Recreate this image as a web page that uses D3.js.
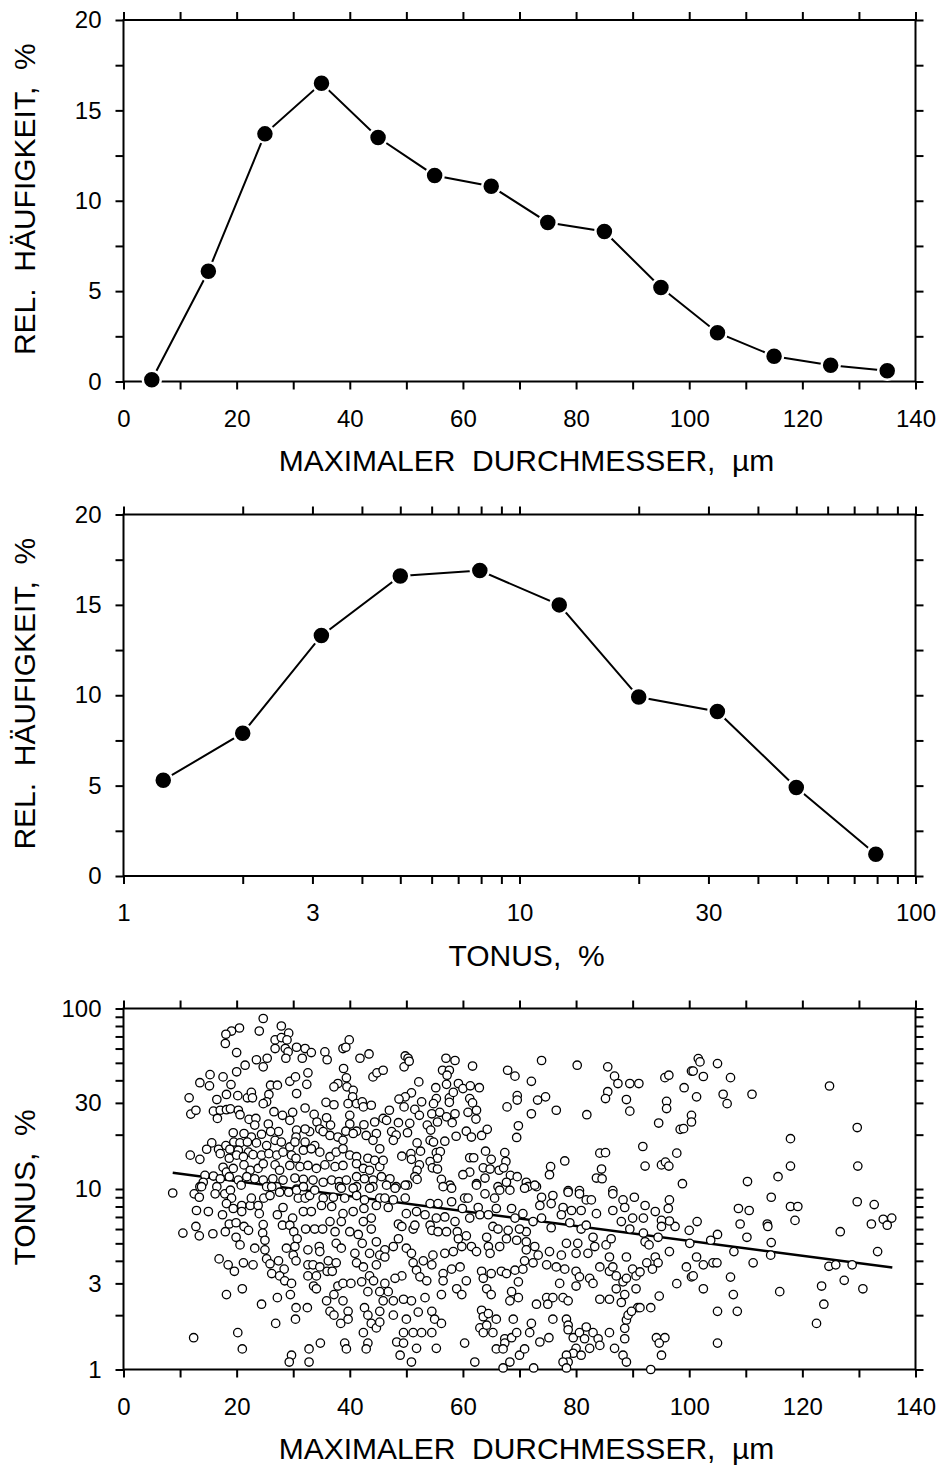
<!DOCTYPE html>
<meta charset="utf-8">
<script src="https://d3js.org/d3.v7.min.js"></script>
<style>
  body { margin: 0; background: #fff; }
  text { font-family: "Liberation Sans", Arial, Helvetica, sans-serif; fill: #000; }
</style>
<body>
<div id="chart"></div>
<script>

// ---- data ----
// panel 1: size distribution
var diamBins = [5, 15, 25, 35, 45, 55, 65, 75, 85, 95, 105, 115, 125, 135];
var diamFreq = [0.1, 6.1, 13.7, 16.5, 13.5, 11.4, 10.8, 8.8, 8.3, 5.2, 2.7, 1.4, 0.9, 0.6];

// panel 2: tonus distribution (log bins)
var tonusBins = [1.26, 2, 3.16, 5, 7.94, 12.6, 20, 31.6, 50, 79.4];
var tonusFreq = [5.3, 7.9, 13.3, 16.6, 16.9, 15.0, 9.9, 9.1, 4.9, 1.2];

// panel 3: [diameter, tonus] per particle
var scatter = [
  [24.7,88],[24.0,75],[27.9,80],[29.2,73],[26.8,67],[27.9,69],[28.9,67],[26.8,60],[28.6,60],[29.1,57.5],[28.7,53],[30.6,61],[32.1,60],[33.2,57],[31.6,53],[35.6,57.5],[36.0,52],[38.8,60],[39.9,67],[39.3,61],[41.8,53],[43.4,56],[20.5,78],[19.1,75],[18.1,72],[18.0,64],[20.0,57],[23.5,52],[24.7,47.5],[25.4,53],[21.5,48.5],[20.0,44.6],[15.3,43],[15.2,37.3],[13.5,38.8],[17.6,41.8],[19.0,37.9],[11.6,32],[16.5,31.3],[18.2,33.4],[20.2,32.9],[21.9,32],[22.6,34.3],[22.8,32],[26.0,37.6],[27.2,37.6],[25.7,33.4],[25.3,30.4],[24.7,29.7],[29.4,39.5],[30.4,41.8],[30.6,33.8],[32.6,44],[32.4,38],[32.1,28.1],[35.8,30.2],[37.2,29.3],[38.9,46.5],[39.4,41.3],[37.9,38.4],[37.2,36.8],[39.5,36.8],[40.6,35.2],[40.5,32.4],[39.7,29.7],[41.2,29.7],[42.2,30.4],[42.4,28.5],[43.8,29.1],[44.1,41.8],[44.8,44],[45.9,45.5],
  [11.9,26],[12.8,27.3],[15.9,27],[17.1,27.3],[16.6,24.6],[18.2,27.5],[18.9,27.8],[20.3,27.3],[20.6,25.8],[22.2,24.3],[23.4,24.6],[23.2,22.6],[25.6,22.9],[26.6,26.8],[28.1,25.6],[29.4,24],[29.9,26.6],[33.7,25.9],[34.2,23.5],[35.9,24.8],[36.6,22.6],[34.7,21.5],[35.3,20.8],[32.9,20.8],[32.1,21.5],[30.6,21.2],[30.5,19.4],[32.1,18.2],[33.8,17.4],[40,25.6],[40,22.9],[39.3,20.9],[41.2,20.9],[42.5,22.7],[42.9,19.8],[44.4,23.5],[44.7,20.3],[44.1,18.6],[45.9,24.6],[27.4,20.8],[26,20.8],[24.4,20.1],[22.6,19.4],[21.3,20.3],[19.4,20.5],[19.5,18.2],[20.6,18],[21.9,18.2],[23.5,18],[25.3,17.4],[26.8,18.6],[27.9,18.2],[29.4,17.1],[30.3,18.2],[36.5,19.8],[37.9,19.4],[38.8,18.6],[40.6,20.3],[15.6,18],[14.7,16.6],[16.8,16.6],[18.1,17.4],[18.8,16.6],[20.3,16.4],[22.1,16],
  [11.8,15.4],[13.5,14.6],[17.1,15.7],[18.7,14.8],[20,15.4],[21.2,15.1],[22.9,15.5],[24.4,15.4],[25.7,15.7],[27.1,15.4],[28.2,16],[29.7,15.4],[30.5,14.8],[31.8,16.4],[33.2,16.7],[34.7,16],[36.5,15.1],[37.6,16],[38.8,16.7],[40,15.4],[41.2,15.1],[43.2,14.8],[45.3,16.7],[44.4,14.4],[17.6,13.2],[18.2,12.4],[19.4,13],[21.3,13.6],[22.4,12.7],[23.8,13],[24.7,13.8],[26.8,13.6],[27.6,12.7],[29.4,13.5],[31.2,13.3],[32.6,13.5],[34.1,13],[35.6,13.6],[37.4,13.3],[38.8,13.5],[41.2,13.8],[42.4,13],[43.5,12.7],[45.3,13.3],[14.4,11.9],[15.9,11.8],[17.1,11.4],[18.7,11.7],[20.3,11.2],[21.8,11.7],[23.2,11.4],[24.7,11.2],[26.4,11.4],[28.2,11.2],[30.3,11.5],[31.8,11.3],[33.5,11.2],[35.3,10.9],[36.8,11.2],[38.1,11],[39.4,11.2],[41.2,11.7],[42.6,11.4],[44.1,11.2],[45.6,11.7],[14.1,10.9],[13.5,10.3],[16.5,10.3],[20.8,10.5],[25.3,10.3],[27.1,10.3],[30.6,10],[38.2,10.3],[41.2,10.3],[44.1,10.3],[8.7,9.5],
  [12.5,9.4],[13.4,9.0],[13.8,10.3],[16.2,9.4],[17.9,9.4],[18.9,9.85],[19.1,8.9],[18.2,8.3],[19.4,7.8],[20.9,8.1],[22.4,8.1],[22.6,8.9],[23.8,8.1],[24.8,8.9],[25.9,9.2],[26.2,10.3],[27.6,9.6],[29.2,9.6],[28.2,7.9],[30.9,8.9],[30.6,9.85],[31.8,10.3],[32.1,8.9],[32.9,9.2],[33.8,9.85],[35.3,8.9],[37.1,9.0],[38.5,10.1],[39.1,8.9],[40.6,10.1],[41.2,9.2],[42.6,8.7],[43.5,10.1],[45.3,8.9],[12.9,7.6],[15.0,7.5],[17.5,7.2],[20.9,7.5],[24.0,7.3],[27.2,7.2],[29.9,6.9],[31.8,7.5],[33.2,7.5],[35.0,8.1],[36.8,8.0],[38.8,7.3],[40.6,7.5],[42.5,7.8],[43.8,6.9],[44.7,8.1],[12.8,6.2],[13.4,5.5],[10.5,5.7],[15.8,5.65],[18.0,5.8],[18.7,6.4],[19.9,6.5],[21.3,6.2],[22.1,5.9],[19.9,5.4],[20.6,4.9],[24.7,6.35],[24.6,5.7],[25.0,5.2],[23.2,4.7],[25.0,4.6],[28.1,6.3],[29.4,6.3],[30.1,5.8],[30.7,5.3],[32.2,6.0],[33.8,6.0],[35.2,6.0],[36.5,6.6],[37.4,5.8],[38.5,6.6],[40.0,5.8],[41.5,5.6],[42.4,6.6],[43.8,6.0],[28.8,4.7],[30.3,4.8],[32.6,4.6],[34.6,4.8],[34.7,4.5],[37.6,5.0],[38.5,4.7],[40.9,4.4],[42.2,5.0],[43.5,4.4],[44.7,5.1],
  [16.9,4.1],[18.5,3.8],[19.6,3.5],[21.2,3.9],[22.9,3.8],[25.3,4.1],[25.9,3.85],[27.4,4.0],[28.4,3.6],[26.2,3.4],[27.6,3.3],[28.5,3.1],[29.7,3.0],[30.0,4.3],[30.5,4.0],[32.6,3.8],[33.5,3.8],[34.7,3.7],[36.2,4.0],[37.6,3.9],[36.0,3.5],[36.9,3.5],[32.6,3.3],[34.1,3.3],[33.6,2.9],[34.1,2.8],[37.9,2.9],[38.8,3.0],[40.2,3.0],[41.2,3.9],[42.4,3.7],[43.5,3.3],[44.7,3.8],[44.2,3.1],[42.1,3.06],[43.2,2.7],[18.2,2.6],[21.0,2.8],[24.4,2.3],[27.2,2.5],[29.5,2.6],[30.5,2.2],[32.5,2.2],[30.4,1.9],[26.9,1.8],[35.9,2.4],[37.2,2.6],[38.8,2.4],[36.5,2.1],[37.2,2.0],[38.4,1.8],[39.7,2.1],[39.7,1.9],[42.6,2.2],[43.2,2.0],[43.8,1.8],[44.7,1.7],[45.3,1.83],[45.3,2.1],[42.4,1.6],[12.4,1.5],[20.2,1.6],[21.0,1.3],[29.7,1.2],[29.3,1.1],[32.8,1.3],[32.8,1.1],[34.8,1.4],[39.1,1.4],[39.4,1.3],[43.2,1.4],[42.9,1.3],
  [49.8,54.6],[50.3,53],[49.6,47.5],[50.5,51],[57.0,53],[58.6,51.5],[61.7,48],[56.4,45.5],[57.6,45.5],[57.2,42.7],[52.2,39.2],[55.2,36.4],[57.1,38],[59.2,38.4],[60.0,36],[61.3,37.3],[62.9,36.4],[50.9,34.1],[49.8,32.4],[48.7,31.5],[52.7,30.4],[55.3,31.7],[57.6,32],[58.3,34.3],[54.8,29.7],[57.6,30.2],[61.2,31.7],[61.7,30],[49.6,28.5],[51.5,27.6],[47.0,27.3],[52.3,25.6],[54.5,26.1],[55.9,26.6],[57.1,25.1],[58.6,26.1],[60.9,26.6],[62.4,27.3],[62.3,24.4],[46.5,24],[48.6,23.3],[50.6,23.1],[53.7,22.6],[55.5,23.5],[58.1,23.3],[47.4,20.8],[48.2,19.9],[50.2,20.5],[54.3,21.2],[60.6,20.9],[61.5,19.4],[63.3,19.8],[64.3,21.4],[47.7,18.6],[51.9,18],[54.2,18.6],[54.8,18.2],[56.8,18.4],[58.8,19.6],[45.9,14.4],[49.2,15.2],[50.8,15.7],[50.9,14.6],[52.5,16.2],[55.3,15.9],[56.0,16.1],[55.5,14.8],[54.2,14.2],[52.3,13.6],[54.6,13.1],[55.5,12.9],[51.9,12.7],[51.5,11.7],[51.9,11.3],[47.1,11.4],[46.5,10.5],[48.2,10.3],[50.2,10.5],[56.2,11.3],[57.7,10.5],[61.2,14.9],[61.9,14.9],[64.0,16.2],[65.0,14.6],[63.6,13.1],[64.8,12.9],[61.2,12.4],[60.0,12],[63.9,11.5],[62.4,10.7],[66.4,12.7],[67.4,15.9],[67.6,14.2],[67.2,13.1],[68.4,11.9],[67.7,10.9],[69.6,11.7],[71.2,10.9],[66.2,10.3],
  [67.9,45.5],[69.2,42.2],[72.1,39.5],[73.9,51.5],[80.2,48.5],[85.6,47.5],[86.8,42.2],[87.4,38.4],[89.5,38.4],[91.1,38.4],[69.6,32.9],[69.6,31.1],[67.8,28.5],[73.2,31.1],[74.6,32.4],[72.1,26.1],[76.5,27.3],[81.9,25.8],[85.6,34.6],[85.2,31.7],[88.9,31.3],[89.5,27],[69.8,22.4],[69.5,19.3],[78.0,14.3],[75.5,13.3],[75.3,12],[84.2,15.8],[85.2,15.9],[84.5,12.9],[83.6,11.5],[84.6,11.4],[71.5,10.3],[73.0,10.3],[78.6,9.8],[80.6,9.8],[86.5,9.8],
  [48.0,10.1],[49.8,10.5],[46.2,8.9],[47.7,8.7],[46.8,7.9],[49.8,8.9],[54.2,8.3],[55.6,8.3],[58.0,8.5],[56.5,10.3],[58.0,10.1],[62.4,10.5],[60.3,8.9],[60.9,8.9],[59.9,7.8],[62.7,7.9],[63.9,9.4],[65.6,8.9],[65.9,7.8],[66.5,9.85],[68.3,9.85],[68.6,7.8],[70.9,10.1],[72.7,10.5],[73.9,9.0],[73.6,8.1],[75.9,9.2],[75.6,8.3],[77.7,7.9],[78.6,9.6],[80.6,9.4],[81.8,8.7],[82.7,8.7],[79.2,7.6],[80.9,7.6],[83.6,7.3],[86.5,9.4],[88.3,8.7],[90.3,9.0],[88.6,7.9],[86.5,7.6],
  [50.0,7.3],[51.8,7.5],[53.3,7.2],[48.6,6.4],[49.2,6.2],[51.2,6.0],[51.5,6.3],[54.2,6.3],[54.5,5.9],[55.3,6.9],[56.8,7.0],[55.6,5.8],[57.1,5.8],[58.6,6.6],[59.0,5.8],[59.2,5.3],[60.6,5.5],[61.2,6.9],[63.0,7.2],[64.5,7.2],[65.3,6.2],[66.2,6.0],[68.0,5.9],[69.2,6.9],[70.6,7.3],[72.4,6.6],[71.2,5.8],[70.0,6.0],[73.9,6.9],[75.6,6.1],[78.9,6.5],[77.4,7.2],[80.9,6.0],[81.8,6.3],[83.0,5.4],[85.3,4.9],[86.2,5.3],[88.0,6.6],[89.5,6.0],[90.0,6.9],[48.6,5.3],[47.7,4.8],[46.2,4.6],[50.0,4.7],[50.9,4.4],[53.0,4.0],[54.7,4.3],[56.8,4.4],[58.3,4.5],[59.8,4.8],[61.5,4.8],[62.4,4.5],[64.2,5.4],[64.5,4.8],[64.8,4.4],[66.5,4.8],[67.7,5.3],[69.5,5.2],[71.2,5.1],[71.2,4.6],[72.7,4.8],[73.3,4.3],[75.3,4.5],[77.4,4.3],[78.3,5.0],[80.3,5.0],[80.0,4.4],[82.1,4.4],[83.3,4.8],[85.9,4.2],[88.9,4.2],
  [45.3,4.3],[46.2,4.2],[51.2,3.9],[51.8,3.55],[52.4,3.26],[53.6,3.1],[49.2,3.3],[48.0,3.2],[46.2,3.0],[46.8,2.7],[54.5,3.8],[56.5,3.4],[56.5,3.1],[58.0,3.6],[59.5,3.7],[60.6,3.1],[58.9,2.8],[59.8,2.6],[56.2,2.6],[53.3,2.5],[63.3,3.5],[65.0,3.4],[63.6,3.2],[64.2,2.8],[65.0,2.6],[66.8,3.5],[67.7,3.4],[69.2,3.55],[70.6,3.6],[70.9,4.0],[72.4,3.9],[69.8,3.06],[68.6,2.7],[69.8,2.5],[68.3,2.4],[73.0,2.3],[74.8,2.5],[75.9,2.5],[75.0,2.3],[74.8,3.8],[76.5,3.7],[78.0,3.6],[80.0,3.5],[80.6,3.26],[80.0,2.9],[82.4,3.2],[83.0,3.0],[77.1,3.0],[77.7,2.5],[78.6,2.4],[84.2,3.7],[85.9,3.5],[86.5,3.7],[87.1,3.3],[88.3,3.06],[88.9,3.2],[90.0,3.6],[90.6,3.3],[90.6,2.8],[87.1,2.8],[88.6,2.6],[84.2,2.45],[85.9,2.45],[88.0,2.35],[90.9,2.2],
  [45.3,2.7],[45.9,2.4],[47.7,2.4],[49.5,2.45],[50.9,2.4],[52.1,2.08],[47.7,2.0],[50.0,1.9],[54.5,2.1],[55.0,1.9],[56.2,1.8],[52.7,1.6],[51.2,1.6],[54.5,1.6],[49.5,1.6],[48.3,1.42],[49.5,1.4],[48.9,1.2],[50.9,1.1],[51.8,1.31],[55.3,1.31],[60.3,1.4],[62.1,1.1],[63.3,2.13],[63.6,1.96],[64.5,2.04],[65.9,1.9],[63.0,1.7],[63.6,1.6],[65.3,1.6],[64.2,1.76],[67.4,1.48],[67.4,1.4],[68.6,1.5],[69.5,1.6],[65.9,1.3],[67.1,1.3],[70.0,1.2],[70.9,1.3],[72.1,1.8],[71.8,1.6],[68.9,1.9],[68.3,1.1],[67.1,1.02],[72.5,1.02],[73.6,1.42],[75.2,1.5],[75.9,1.9],[78.3,1.9],[78.6,1.76],[78.6,1.66],[79.5,1.5],[80.6,1.6],[81.8,1.72],[83.0,1.6],[81.5,1.48],[83.9,1.48],[84.2,1.36],[82.4,1.31],[80.0,1.31],[79.5,1.23],[78.3,1.2],[78.6,1.1],[77.7,1.1],[80.9,1.2],[78.3,1.02],[85.9,1.6],[86.8,1.31],[88.6,1.69],[88.9,1.88],[88.6,1.48],[89.2,2.0],[89.8,2.1],[88.3,1.2],[88.9,1.1],
  [101.6,52.8],[101.9,50.6],[105.0,49.5],[100.4,45],[100.7,45],[95.7,41.4],[96.4,42.7],[102.5,42],[107.3,41.4],[99.1,36.4],[106.0,33.5],[106.7,29.7],[111.1,33.5],[124.8,37.2],[96.0,30.6],[96.0,27.9],[101.3,32.4],[100.4,25.6],[100.4,23.5],[94.6,23.2],[98.4,21.4],[99.0,21.6],[91.8,17.2],[92.2,13.4],[95.1,13.6],[95.8,14.1],[96.4,13.4],[97.8,15.8],[98.8,10.7],[117.9,19.0],[117.9,13.4],[115.7,11.7],[110.3,11.0],[129.7,21.9],[129.8,13.4],[114.5,9.0],[108.7,7.8],[110.6,7.6],[117.9,8.0],[119.2,8.0],[118.7,6.7],[109.0,6.4],[113.8,6.4],[113.9,6.2],[129.7,8.5],[132.7,8.2],[132.2,6.4],[134.3,6.8],[135.8,6.9],[135.0,6.3],[126.7,5.8],[133.3,4.5],[124.7,3.73],[125.9,3.8],[128.8,3.8],[127.4,3.12],[123.4,2.9],[130.7,2.8],[123.8,2.3],[122.5,1.8],[116.0,2.7],[105.0,2.1],[108.5,2.1],[107.8,2.6],[107.3,3.25],[111.3,3.9],[114.5,5.05],[114.4,4.3],[107.9,4.5],[110.2,5.4],[105.0,5.6],[103.8,5.2],[100.0,5.9],[100.1,5.0],[101.4,6.6],[101.3,4.2],[102.5,3.8],[104.2,3.9],[104.9,3.9],[99.5,3.7],[100.4,3.26],[100.7,3.3],[102.5,2.8],[97.8,2.99],[96.5,4.5],[97.5,6.2],[96.5,6.65],[96.5,8.7],[96.3,7.8],[94.0,7.5],[95.1,6.7],[95.1,6.2],[94.5,5.4],[92.2,8.1],[91.9,6.9],[91.9,5.7],[92.2,5.1],[92.9,4.9],[94.0,4.2],[92.5,3.9],[94.5,3.9],[93.5,3.6],[91.3,3.47],[91.3,2.2],[93.2,2.2],[94.7,2.55],[94.2,1.5],[95.7,1.5],[94.7,1.4],[95.1,1.2],[105.0,1.4],[93.2,1.0]
];

// regression line end points
var fitX = [8.7, 135.9];
var fitT = [12.3, 3.67];

// ticks
var linTicks = d3.range(0, 141, 10);
var linLabels = [0, 20, 40, 60, 80, 100, 120, 140];
var logTicks = [1,2,3,4,5,6,7,8,9,10,20,30,40,50,60,70,80,90,100];
var logLabels = [1, 3, 10, 30, 100];
var freqTicks = d3.range(0, 20.1, 2.5);
var freqLabels = [0, 5, 10, 15, 20];

// ---- layout ----
var FONT = '"Liberation Sans", Arial, Helvetica, sans-serif';
var left = 123.5, right = 915.5;
var panels = [
  {top: 20, bottom: 381.5},
  {top: 514.5, bottom: 876},
  {top: 1008.5, bottom: 1369.5}
];

var svg = d3.select("#chart").append("svg")
    .attr("width", 940)
    .attr("height", 1468);

function pick(labels) {
  return function(d) { return labels.indexOf(+d.toFixed(1)) >= 0 ? d : ""; };
}

function axes(p, x, y, xt, xl, yt, yl) {
  var g = svg.append("g");
  g.append("g").attr("transform", "translate(0," + p.bottom + ")")
    .call(d3.axisBottom(x).tickValues(xt).tickFormat(pick(xl)).tickSize(8).tickSizeOuter(0).tickPadding(20));
  g.append("g").attr("transform", "translate(0," + p.top + ")")
    .call(d3.axisTop(x).tickValues(xt).tickFormat("").tickSize(8).tickSizeOuter(0));
  g.append("g").attr("transform", "translate(" + left + ",0)")
    .call(d3.axisLeft(y).tickValues(yt).tickFormat(pick(yl)).tickSize(8).tickSizeOuter(0).tickPadding(14));
  g.append("g").attr("transform", "translate(" + right + ",0)")
    .call(d3.axisRight(y).tickValues(yt).tickFormat("").tickSize(8).tickSizeOuter(0));
  g.selectAll("g").attr("font-size", 24).attr("font-family", FONT);
  g.selectAll(".domain").remove();
  g.selectAll(".tick line").attr("stroke", "#000").attr("stroke-width", 2);
  g.selectAll(".tick text").attr("fill", "#000");
  g.append("rect")
    .attr("x", left).attr("y", p.top)
    .attr("width", right - left).attr("height", p.bottom - p.top)
    .attr("fill", "none").attr("stroke", "#000").attr("stroke-width", 2);
}

function titles(p, xTitle, yTitle) {
  svg.append("text")
    .attr("x", 526.5)
    .attr("y", p.bottom + 89.5)
    .attr("text-anchor", "middle")
    .style("font-size", "30px")
    .style("white-space", "pre")
    .text(xTitle);
  svg.append("text")
    .attr("transform", "translate(34.5," + ((p.top + p.bottom) / 2 - 1.5) + ") rotate(-90)")
    .attr("text-anchor", "middle")
    .style("font-size", "30px")
    .style("white-space", "pre")
    .text(yTitle);
}

function lineWithDots(x, y, xs, ys) {
  var pts = xs.map(function(d, i) { return [d, ys[i]]; });
  svg.append("path")
    .datum(pts)
    .attr("fill", "none")
    .attr("stroke", "#000")
    .attr("stroke-width", 2)
    .attr("d", d3.line().x(function(d) { return x(d[0]); }).y(function(d) { return y(d[1]); }));
  svg.append("g").selectAll("circle")
    .data(pts)
    .enter()
    .append("circle")
      .attr("cx", function(d) { return x(d[0]); })
      .attr("cy", function(d) { return y(d[1]); })
      .attr("r", 9)
      .attr("fill", "#000")
      .attr("stroke", "#fff")
      .attr("stroke-width", 2.5);
}

// ---- panel 1 ----
var x1 = d3.scaleLinear().domain([0, 140]).range([left, right]);
var y1 = d3.scaleLinear().domain([0, 20]).range([panels[0].bottom, panels[0].top]);
axes(panels[0], x1, y1, linTicks, linLabels, freqTicks, freqLabels);
lineWithDots(x1, y1, diamBins, diamFreq);
titles(panels[0], "MAXIMALER  DURCHMESSER,  µm", "REL.  HÄUFIGKEIT,  %");

// ---- panel 2 ----
var x2 = d3.scaleLog().domain([1, 100]).range([left, right]);
var y2 = d3.scaleLinear().domain([0, 20]).range([panels[1].bottom, panels[1].top]);
axes(panels[1], x2, y2, logTicks, logLabels, freqTicks, freqLabels);
lineWithDots(x2, y2, tonusBins, tonusFreq);
titles(panels[1], "TONUS,  %", "REL.  HÄUFIGKEIT,  %");

// ---- panel 3 ----
var x3 = d3.scaleLinear().domain([0, 140]).range([left, right]);
var y3 = d3.scaleLog().domain([1, 100]).range([panels[2].bottom, panels[2].top]);
axes(panels[2], x3, y3, linTicks, linLabels, logTicks, logLabels);

svg.append("path")
  .datum(fitX.map(function(d, i) { return [d, fitT[i]]; }))
  .attr("fill", "none")
  .attr("stroke", "#000")
  .attr("stroke-width", 2.5)
  .attr("d", d3.line().x(function(d) { return x3(d[0]); }).y(function(d) { return y3(d[1]); }));

svg.append("g").selectAll("circle")
  .data(scatter)
  .enter()
  .append("circle")
    .attr("cx", function(d) { return x3(d[0]); })
    .attr("cy", function(d) { return y3(d[1]); })
    .attr("r", 4.2)
    .attr("fill", "#fff")
    .attr("stroke", "#000")
    .attr("stroke-width", 1.3);

titles(panels[2], "MAXIMALER  DURCHMESSER,  µm", "TONUS,  %");

</script>
</body>
